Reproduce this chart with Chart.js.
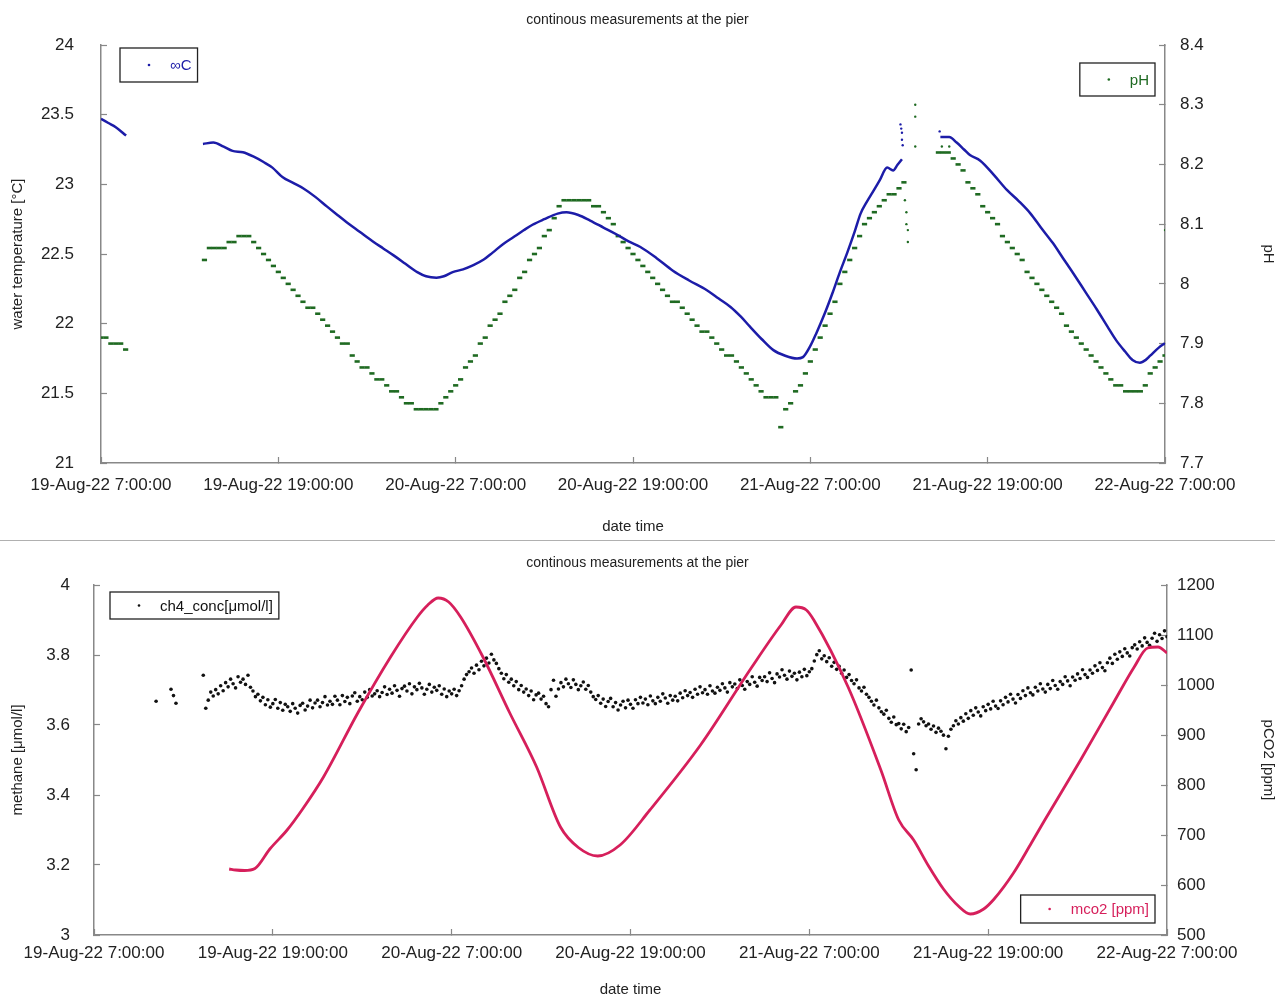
<!DOCTYPE html>
<html>
<head>
<meta charset="utf-8">
<script src="https://cdn.jsdelivr.net/npm/chart.js@4.4.1/dist/chart.umd.min.js"></script>
<style>
  body { margin: 0; background: #fff; width: 1275px; height: 996px; overflow: hidden; position: relative; }
  .panel { position: absolute; left: 0; width: 1275px; }
  #topPanel { top: 0; height: 540px; }
  #bottomPanel { top: 541px; height: 455px; }
  .rule { position: absolute; left: 0; top: 540px; width: 1275px; border-top: 1px solid #b0b0b0; }
</style>
</head>
<body>
<div class="panel" id="topPanel"><canvas id="tempChart"></canvas></div>
<div class="rule"></div>
<div class="panel" id="bottomPanel"><canvas id="gasChart"></canvas></div>
<script>
// ---- data (hours since 19-Aug-22 7:00) ----
const tickLabels = ['19-Aug-22 7:00:00', '19-Aug-22 19:00:00', '20-Aug-22 7:00:00', '20-Aug-22 19:00:00',
                    '21-Aug-22 7:00:00', '21-Aug-22 19:00:00', '22-Aug-22 7:00:00'];

// water temperature, null = logger gap
const tempHours = [0, 0.5, 1.0, 1.7, 4.0,
  6.9, 7.6, 8.3, 8.9, 9.6, 10.3, 11.0, 11.6, 12.3, 13.0, 13.7, 14.5, 15.3, 16.0, 16.6, 17.5, 18.4, 19.1, 19.8,
  20.6, 21.4, 22.0, 22.7, 23.2, 23.8, 24.5, 25.2, 25.9, 26.5, 27.2, 27.9, 28.6, 29.2, 30.0, 30.9, 31.5, 32.3,
  33.1, 34.0, 34.9, 35.7, 36.5, 37.6, 38.7, 39.8, 41.0, 41.8, 42.6, 43.3, 43.9, 44.7, 45.5, 46.3, 47.1, 47.5,
  48.0, 48.4, 49.0, 49.5, 50.0, 50.5, 51.0, 51.4, 51.8, 52.2, 52.7, 53.2, 53.6, 53.9, 54.2, 55.5,
  56.8, 57.4, 57.9, 58.4, 58.8, 59.5, 60.4, 61.3, 62.1, 62.9, 63.6, 64.4, 65.1, 65.8, 66.6, 67.4, 68.1, 68.7,
  69.3, 69.8, 70.3, 70.7, 71.0, 71.6, 72.0];
const tempValues = [23.47, 23.44, 23.41, 23.35, null,
  23.29, 23.30, 23.27, 23.24, 23.23, 23.20, 23.16, 23.12, 23.05, 23.01, 22.97, 22.91, 22.84, 22.78, 22.73, 22.66, 22.59, 22.54, 22.49,
  22.43, 22.37, 22.34, 22.33, 22.34, 22.37, 22.39, 22.42, 22.46, 22.51, 22.57, 22.62, 22.67, 22.71, 22.75, 22.79, 22.80, 22.78,
  22.74, 22.69, 22.64, 22.59, 22.55, 22.47, 22.38, 22.31, 22.24, 22.18, 22.12, 22.05, 21.98, 21.89, 21.81, 21.77, 21.75, 21.76,
  21.84, 21.93, 22.08, 22.22, 22.37, 22.51, 22.66, 22.79, 22.87, 22.94, 23.03, 23.12, 23.10, 23.14, 23.18, null,
  23.34, 23.34, 23.30, 23.25, 23.21, 23.17, 23.07, 22.96, 22.88, 22.79, 22.69, 22.58, 22.47, 22.36, 22.23, 22.10, 21.98, 21.88,
  21.80, 21.74, 21.72, 21.74, 21.77, 21.83, 21.86];
// stray temperature readings around the second gap
const tempStrayHours = [54.1, 54.15, 54.2, 54.2, 54.25, 56.75];
const tempStrayValues = [23.43, 23.40, 23.37, 23.32, 23.28, 23.38];

// pH, one reading every 20 minutes
const PH_STEP = 1 / 3;
const phValues = [
  7.91, 7.91, 7.90,  7.90, 7.90, 7.89,  null, null, null,  null, null, null,  null, null, null,
  null, null, null,  null, null, null,  8.04, 8.06, 8.06,  8.06, 8.06, 8.07,  8.07, 8.08, 8.08,
  8.08, 8.07, 8.06,  8.05, 8.04, 8.03,  8.02, 8.01, 8.00,  7.99, 7.98, 7.97,  7.96, 7.96, 7.95,
  7.94, 7.93, 7.92,  7.91, 7.90, 7.90,  7.88, 7.87, 7.86,  7.86, 7.85, 7.84,  7.84, 7.83, 7.82,
  7.82, 7.81, 7.80,  7.80, 7.79, 7.79,  7.79, 7.79, 7.79,  7.80, 7.81, 7.82,  7.83, 7.84, 7.86,
  7.87, 7.88, 7.90,  7.91, 7.93, 7.94,  7.95, 7.97, 7.98,  7.99, 8.01, 8.02,  8.04, 8.05, 8.06,
  8.08, 8.09, 8.11,  8.13, 8.14, 8.14,  8.14, 8.14, 8.14,  8.14, 8.13, 8.13,  8.12, 8.11, 8.10,
  8.08, 8.07, 8.06,  8.05, 8.04, 8.03,  8.02, 8.01, 8.00,  7.99, 7.98, 7.97,  7.97, 7.96, 7.95,
  7.94, 7.93, 7.92,  7.92, 7.91, 7.90,  7.89, 7.88, 7.88,  7.87, 7.86, 7.85,  7.84, 7.83, 7.82,
  7.81, 7.81, 7.81,  7.76, 7.79, 7.80,  7.82, 7.83, 7.85,  7.87, 7.89, 7.91,  7.93, 7.95, 7.97,
  8.00, 8.02, 8.04,  8.06, 8.08, 8.10,  8.11, 8.12, 8.13,  8.14, 8.15, 8.15,  8.16, 8.17, null,
  null, null, null,  null, null, 8.22,  8.22, 8.22, 8.21,  8.20, 8.19, 8.17,  8.16, 8.15, 8.13,
  8.12, 8.11, 8.10,  8.08, 8.07, 8.06,  8.05, 8.04, 8.02,  8.01, 8.00, 7.99,  7.98, 7.97, 7.96,
  7.95, 7.93, 7.92,  7.91, 7.90, 7.89,  7.88, 7.87, 7.86,  7.85, 7.84, 7.83,  7.83, 7.82, 7.82,
  7.82, 7.82, 7.83,  7.85, 7.86, 7.87,  7.88];
// single off-step pH readings (sensor jumps)
const phStrayHours = [54.4, 54.5, 54.5, 54.6, 54.6, 55.1, 55.1, 55.1, 56.9, 57.4, 72.0];
const phStrayValues = [8.14, 8.12, 8.10, 8.09, 8.07, 8.30, 8.28, 8.23, 8.23, 8.23, 8.09];

// methane, one reading every 10 minutes
const CH4_STEP = 1 / 6;
const ch4Values = [
  null, null, null, null, null, null,   null, null, null, null, null, null,
  null, null, null, null, null, null,   null, null, null, null, null, null,
  null, 3.668, null, null, null, null,  null, 3.702, 3.684, 3.662, null, null,
  null, null, null, null, null, null,   null, null, 3.742, 3.648, 3.671, 3.694,
  3.683, 3.701, 3.689, 3.712, 3.698, 3.721,  3.709, 3.731, 3.718, 3.706, 3.738, 3.722,
  3.731, 3.716, 3.742, 3.708, 3.697, 3.681,  3.688, 3.669, 3.679, 3.658, 3.672, 3.651,
  3.661, 3.673, 3.648, 3.664, 3.642, 3.659,  3.652, 3.639, 3.661, 3.648, 3.634, 3.656,
  3.662, 3.643, 3.654, 3.671, 3.649, 3.663,  3.671, 3.652, 3.664, 3.681, 3.657, 3.668,
  3.659, 3.682, 3.671, 3.658, 3.684, 3.667,  3.679, 3.661, 3.683, 3.692, 3.668, 3.681,
  3.672, 3.694, 3.679, 3.701, 3.683, 3.689,  3.698, 3.681, 3.693, 3.709, 3.687, 3.702,
  3.691, 3.712, 3.699, 3.682, 3.704, 3.711,  3.697, 3.718, 3.689, 3.709, 3.701, 3.719,
  3.706, 3.688, 3.702, 3.716, 3.694, 3.708,  3.699, 3.712, 3.688, 3.703, 3.681, 3.697,
  3.689, 3.702, 3.684, 3.698, 3.712, 3.731,  3.744, 3.752, 3.763, 3.748, 3.771, 3.758,
  3.782, 3.769, 3.791, 3.777, 3.802, 3.786,  3.776, 3.761, 3.748, 3.732, 3.744, 3.722,
  3.731, 3.712, 3.724, 3.701, 3.713, 3.694,  3.703, 3.684, 3.697, 3.672, 3.686, 3.691,
  3.674, 3.682, 3.661, 3.652, 3.701, 3.728,  3.682, 3.703, 3.721, 3.709, 3.731, 3.718,
  3.707, 3.729, 3.716, 3.701, 3.712, 3.723,  3.702, 3.713, 3.694, 3.681, 3.673, 3.684,
  3.662, 3.674, 3.653, 3.667, 3.676, 3.652,  3.664, 3.643, 3.657, 3.668, 3.649, 3.671,
  3.659, 3.648, 3.672, 3.661, 3.679, 3.663,  3.674, 3.658, 3.683, 3.669, 3.661, 3.679,
  3.668, 3.689, 3.677, 3.662, 3.684, 3.671,  3.682, 3.669, 3.691, 3.678, 3.698, 3.684,
  3.693, 3.679, 3.702, 3.688, 3.709, 3.692,  3.701, 3.688, 3.712, 3.697, 3.691, 3.708,
  3.699, 3.718, 3.706, 3.694, 3.721, 3.709,  3.717, 3.704, 3.729, 3.713, 3.702, 3.724,
  3.716, 3.738, 3.722, 3.711, 3.736, 3.727,  3.738, 3.724, 3.749, 3.733, 3.721, 3.746,
  3.737, 3.758, 3.742, 3.731, 3.754, 3.739,  3.748, 3.729, 3.751, 3.738, 3.759, 3.741,
  3.752, 3.761, 3.783, 3.801, 3.812, 3.789,  3.798, 3.781, 3.792, 3.768, 3.779, 3.759,
  3.768, 3.748, 3.757, 3.736, 3.744, 3.727,  3.718, 3.729, 3.706, 3.697, 3.708, 3.688,
  3.679, 3.668, 3.657, 3.671, 3.649, 3.638,  3.631, 3.642, 3.619, 3.608, 3.623, 3.601,
  3.604, 3.589, 3.602, 3.581, 3.593, 3.757,  3.518, 3.472, 3.603, 3.618, 3.609, 3.598,
  3.603, 3.588, 3.597, 3.579, 3.591, 3.582,  3.571, 3.532, 3.568, 3.588, 3.598, 3.612,
  3.603, 3.621, 3.611, 3.632, 3.619, 3.641,  3.628, 3.649, 3.637, 3.626, 3.652, 3.641,
  3.659, 3.646, 3.668, 3.654, 3.647, 3.669,  3.658, 3.679, 3.666, 3.688, 3.674, 3.663,
  3.687, 3.676, 3.698, 3.684, 3.706, 3.692,  3.686, 3.708, 3.697, 3.718, 3.703, 3.694,
  3.716, 3.704, 3.727, 3.713, 3.702, 3.724,  3.716, 3.738, 3.726, 3.712, 3.737, 3.728,
  3.746, 3.733, 3.758, 3.744, 3.736, 3.757,  3.748, 3.769, 3.756, 3.778, 3.764, 3.755,
  3.778, 3.791, 3.776, 3.802, 3.788, 3.809,  3.796, 3.818, 3.806, 3.797, 3.821, 3.829,
  3.817, 3.838, 3.826, 3.849, 3.836, 3.828,  3.848, 3.862, 3.839, 3.858, 3.847, 3.869,
  3.852];

// pCO2
const co2Hours = [9.07, 9.5, 10.1, 10.8, 11.8, 12.96, 14.0, 15.4, 17.7, 19.9, 21.7, 22.4, 23.1, 23.8, 24.6,
  26.1, 27.9, 29.7, 31.3, 32.5, 33.8, 35.3, 37.3, 40.7, 44.1, 46.1, 47.1, 47.8, 48.3, 50.6, 52.8, 54.0,
  55.0, 56.0, 57.0, 58.0, 58.8, 59.7, 60.4, 61.7, 62.9, 63.8, 66.2, 68.4, 69.8, 70.7, 71.4, 72.0];
const co2Values = [632, 630, 629, 633, 672, 710, 752, 816, 944, 1056, 1136, 1160, 1174, 1166, 1136,
  1056, 944, 836, 716, 675, 658, 680, 750, 880, 1034, 1120, 1156, 1150, 1130, 996, 830, 730,
  690, 638, 592, 558, 542, 552, 572, 624, 684, 730, 850, 964, 1036, 1074, 1076, 1064];

// ---- helpers ----
const FONT = '"Liberation Sans", Arial, sans-serif';
Chart.defaults.font.family = FONT;
Chart.defaults.color = '#222';

const pairs = (xs, ys) => xs.map((x, i) => ({ x, y: ys[i] }));
const sampled = (vals, step) => vals.map((v, i) => ({ x: i * step, y: v }));
const plainNumber = v => String(+(+v).toFixed(3));

// framed legend boxes in the plot corners (one per series, like the original)
const legendBoxes = {
  id: 'legendBoxes',
  afterDraw(chart, args, opts) {
    const { ctx, chartArea } = chart;
    ctx.save();
    ctx.font = `${opts.fontSize}px ${FONT}`;
    ctx.textBaseline = 'middle';
    opts.items.forEach(item => {
      const ds = chart.data.datasets[item.dataset];
      const w = 50 + ctx.measureText(ds.label).width + 6;
      const h = item.height;
      const x = item.left != null ? chartArea.left + item.left : chartArea.right - item.right - w;
      const y = item.top != null ? chartArea.top + item.top : chartArea.bottom - item.bottom - h;
      ctx.fillStyle = '#fff';
      ctx.fillRect(x, y, w, h);
      ctx.strokeStyle = '#222';
      ctx.lineWidth = 1.3;
      ctx.strokeRect(x, y, w, h);
      ctx.fillStyle = item.color;
      ctx.beginPath();
      ctx.arc(x + 29, y + h / 2, 1.3, 0, Math.PI * 2);
      ctx.fill();
      ctx.fillText(ds.label, x + 50, y + h / 2 + 1);
    });
    ctx.restore();
  }
};

function timeAxis(boxHeight, labelPad, titlePad) {
  return {
    type: 'linear', position: 'bottom', min: 0, max: 72,
    border: { display: true, color: '#888', width: 1.5 },
    grid: { drawOnChartArea: false, drawTicks: true, tickLength: -6, tickColor: '#888', tickWidth: 1.2 },
    ticks: {
      stepSize: 12, autoSkip: false, maxRotation: 0, minRotation: 0, padding: labelPad,
      font: { size: 17 }, color: '#222',
      callback: v => tickLabels[Math.round(v / 12)] ?? ''
    },
    title: { display: true, text: 'date time', font: { size: 15 }, padding: { top: 0, bottom: titlePad } },
    afterFit: s => { s.height = boxHeight; }
  };
}

function valueAxis(side, min, max, step, boxWidth, labelPad, title, titlePad) {
  return {
    type: 'linear', position: side, min, max,
    border: { display: true, color: '#888', width: 1.5 },
    grid: { drawOnChartArea: false, drawTicks: true, tickLength: -6, tickColor: '#888', tickWidth: 1.2 },
    ticks: { stepSize: step, padding: labelPad, font: { size: 17 }, color: '#222', callback: plainNumber },
    title: { display: true, text: title, font: { size: 15 }, padding: { top: titlePad, bottom: 0 } },
    afterFit: s => { s.width = boxWidth; }
  };
}

const commonPlugins = (titlePadTop, titlePadBottom) => ({
  legend: { display: false },
  tooltip: { enabled: false },
  title: {
    display: true, text: 'continous measurements at the pier',
    font: { size: 14, weight: 'normal' }, color: '#222',
    padding: { top: titlePadTop, bottom: titlePadBottom }
  }
});

// ---- upper chart: water temperature and pH ----
new Chart(document.getElementById('tempChart'), {
  type: 'scatter',
  data: {
    datasets: [
      {
        label: '∞C', yAxisID: 'yT', data: pairs(tempHours, tempValues),
        showLine: true, spanGaps: false, borderColor: '#1c1ca8', borderWidth: 2.5,
        pointRadius: 0, cubicInterpolationMode: 'monotone'
      },
      {
        label: '∞C stray', yAxisID: 'yT', data: pairs(tempStrayHours, tempStrayValues),
        pointRadius: 1.2, borderWidth: 0, backgroundColor: '#1c1ca8'
      },
      {
        label: 'pH', yAxisID: 'yPH', data: sampled(phValues, PH_STEP),
        pointStyle: 'line', pointRadius: 2.6, borderWidth: 2.6, borderColor: '#1f6a22'
      },
      {
        label: 'pH stray', yAxisID: 'yPH', data: pairs(phStrayHours, phStrayValues),
        pointRadius: 1.2, borderWidth: 0, backgroundColor: '#1f6a22'
      }
    ]
  },
  options: {
    responsive: true, maintainAspectRatio: false, animation: false,
    layout: { padding: 0 },
    scales: {
      x: timeAxis(77, 18, 4),
      yT: valueAxis('left', 21, 24, 0.5, 101, 33, 'water temperature [°C]', 9),
      yPH: valueAxis('right', 7.7, 8.4, 0.1, 110, 21, 'pH', -2)
    },
    plugins: {
      ...commonPlugins(11.6, 16.6),
      legendBoxes: {
        fontSize: 15,
        items: [
          { dataset: 0, left: 19, top: 3, height: 34, color: '#1c1ca8' },
          { dataset: 2, right: 10, top: 18, height: 33, color: '#1f6a22' }
        ]
      }
    }
  },
  plugins: [legendBoxes]
});

// ---- lower chart: methane and pCO2 ----
new Chart(document.getElementById('gasChart'), {
  type: 'scatter',
  data: {
    datasets: [
      {
        label: 'mco2 [ppm]', yAxisID: 'yCO2', data: pairs(co2Hours, co2Values),
        showLine: true, borderColor: '#d61f5b', borderWidth: 2.8,
        pointRadius: 0, cubicInterpolationMode: 'monotone'
      },
      {
        label: 'ch4_conc[μmol/l]', yAxisID: 'yCH4', data: sampled(ch4Values, CH4_STEP),
        pointRadius: 1.8, borderWidth: 0, backgroundColor: '#111'
      }
    ]
  },
  options: {
    responsive: true, maintainAspectRatio: false, animation: false,
    layout: { padding: 0 },
    scales: {
      x: timeAxis(61, 14, -3),
      yCH4: valueAxis('left', 3, 4, 0.2, 94, 30, 'methane [μmol/l]', 9),
      yCO2: valueAxis('right', 500, 1200, 100, 108, 16, 'pCO2 [ppm]', -2)
    },
    plugins: {
      ...commonPlugins(13.6, 13.6),
      legendBoxes: {
        fontSize: 15,
        items: [
          { dataset: 1, left: 16, top: 7, height: 27, color: '#111' },
          { dataset: 0, right: 12, bottom: 12, height: 28, color: '#d61f5b' }
        ]
      }
    }
  },
  plugins: [legendBoxes]
});
</script>
</body>
</html>
